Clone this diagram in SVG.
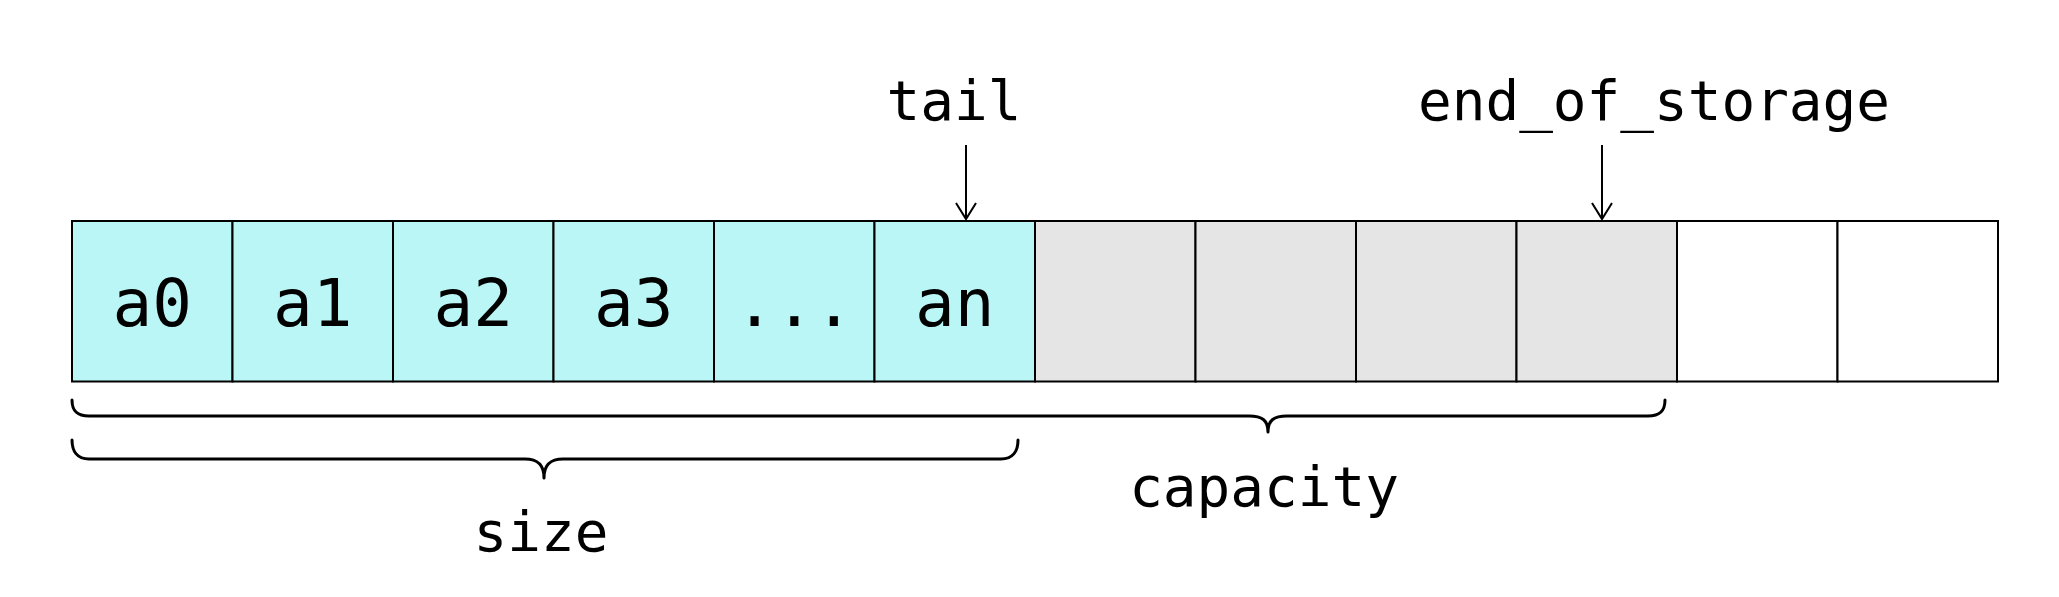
<svg xmlns="http://www.w3.org/2000/svg" width="2059" height="597" viewBox="0 0 2059 597">
<defs>
<style>
.cell{stroke:#000;stroke-width:2}
.used{fill:#bbf6f6}
.res{fill:#e5e5e5}
.free{fill:#fff}
.lbl{font-family:"DejaVu Sans Mono","Liberation Mono",monospace;font-size:66px;fill:#000;text-anchor:middle}
.txt{font-family:"DejaVu Sans Mono","Liberation Mono",monospace;font-size:56px;fill:#000;text-anchor:middle}
.brace{fill:none;stroke:#000;stroke-width:3;stroke-linecap:round;stroke-linejoin:round}
.arr{fill:none;stroke:#000;stroke-width:2}
</style>
<marker id="vh" markerWidth="20" markerHeight="24" viewBox="-18 -12 20 24" refX="0" refY="0" orient="auto" markerUnits="userSpaceOnUse">
<path d="M-16,-10 L0,0 L-16,10" fill="none" stroke="#000" stroke-width="2"/>
</marker>
</defs>
<rect width="2059" height="597" fill="#fff"/>
<g id="cell-a0"><rect class="cell used" x="72" y="221" width="160.5" height="160.5"/><text class="lbl" x="152.25" y="326">a0</text></g>
<g id="cell-a1"><rect class="cell used" x="232.5" y="221" width="160.5" height="160.5"/><text class="lbl" x="312.75" y="326">a1</text></g>
<g id="cell-a2"><rect class="cell used" x="393" y="221" width="160.5" height="160.5"/><text class="lbl" x="473.25" y="326">a2</text></g>
<g id="cell-a3"><rect class="cell used" x="553.5" y="221" width="160.5" height="160.5"/><text class="lbl" x="633.75" y="326">a3</text></g>
<g id="cell-dots"><rect class="cell used" x="714" y="221" width="160.5" height="160.5"/><text class="lbl" x="794.25" y="326">...</text></g>
<g id="cell-an"><rect class="cell used" x="874.5" y="221" width="160.5" height="160.5"/><text class="lbl" x="954.75" y="326">an</text></g>
<g id="cell-r1"><rect class="cell res" x="1035" y="221" width="160.5" height="160.5"/></g>
<g id="cell-r2"><rect class="cell res" x="1195.5" y="221" width="160.5" height="160.5"/></g>
<g id="cell-r3"><rect class="cell res" x="1356" y="221" width="160.5" height="160.5"/></g>
<g id="cell-r4"><rect class="cell res" x="1516.5" y="221" width="160.5" height="160.5"/></g>
<g id="cell-f1"><rect class="cell free" x="1677" y="221" width="160.5" height="160.5"/></g>
<g id="cell-f2"><rect class="cell free" x="1837.5" y="221" width="160.5" height="160.5"/></g>
<g id="label-tail"><text class="txt" x="954" y="120">tail</text></g>
<g id="label-eos"><text class="txt" x="1654" y="120">end_of_storage</text></g>
<g id="label-capacity"><text class="txt" x="1264" y="506">capacity</text></g>
<g id="label-size"><text class="txt" x="541" y="551">size</text></g>
<g id="connectors">
<line class="arr" x1="966" y1="145" x2="966" y2="219" marker-end="url(#vh)"/>
<line class="arr" x1="1602" y1="145" x2="1602" y2="219" marker-end="url(#vh)"/>
<path class="brace" d="M72,400 C72,411 77,416 89,416 L1249,416 C1262,416 1268,420 1268,432 C1268,420 1274,416 1287,416 L1648,416 C1660,416 1665,411 1665,400"/>
<path class="brace" d="M72,440 C72,451 77,459 89,459 L525,459 C538,459 544,465 544,478 C544,465 550,459 563,459 L1001,459 C1013,459 1018,451 1018,440"/>
</g>
</svg>
